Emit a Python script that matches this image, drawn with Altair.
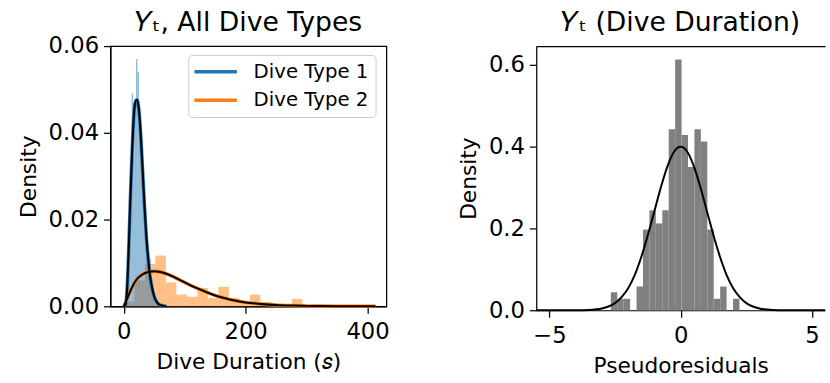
import altair as alt
import pandas as pd

FONT = "DejaVu Sans"
BLUE = "#1f77b4"
ORANGE = "#ff7f0e"

# ---------------- Left panel: Y_t, all dive types ----------------
type1_edges = [3.2, 5.6, 8.0, 10.4, 12.8, 15.2, 17.6, 20.0, 22.4, 24.8, 27.2, 29.6,
               32.0, 34.4, 36.8, 39.2, 41.6, 44.0, 46.4, 48.8, 51.2, 53.6, 56.0, 58.4, 60.8]
type1_density = [0.004, 0.010, 0.018, 0.032, 0.049, 0.046, 0.047, 0.057, 0.054, 0.044,
                 0.036, 0.029, 0.025, 0.019, 0.014, 0.0125, 0.011, 0.006, 0.004, 0.003,
                 0.0015, 0.001, 0.0005, 0.0005]

type2_edges = [0, 17.25, 34.5, 51.75, 69, 86.25, 103.5, 120.75, 138, 155.25, 172.5, 189.75,
               207, 224.25, 241.5, 258.75, 276, 293.25, 310.5, 327.75, 345, 362.25, 379.5,
               396.75, 414]
type2_density = [0.0011, 0.0060, 0.0098, 0.0117, 0.0055, 0.0027, 0.0022, 0.0042, 0.0019,
                 0.0045, 0.0019, 0.0010, 0.0027, 0.0010, 0.0005, 0.0005, 0.0017, 0.0003,
                 0.0003, 0.0, 0.0003, 0.0, 0.0, 0.0003]

type1_curve_x = [2.5, 5, 8, 11, 14, 17, 20, 22, 25, 28, 31, 34, 37, 40, 43, 46, 50, 55, 60, 65, 70]
type1_curve_y = [0, 0.003, 0.013, 0.026, 0.037, 0.045, 0.0475, 0.0476, 0.045, 0.039, 0.031,
                 0.023, 0.016, 0.011, 0.007, 0.0045, 0.0022, 0.0008, 0.0003, 0.0001, 0]

type2_curve_x = [0, 5, 10, 15, 20, 30, 40, 50, 60, 70, 80, 90, 100, 110, 120, 135, 150, 165,
                 180, 200, 225, 250, 275, 300, 350, 413]
type2_curve_y = [0, 0.0016, 0.0033, 0.0048, 0.006, 0.0073, 0.0079, 0.0081, 0.0079, 0.0075,
                 0.0069, 0.0062, 0.0055, 0.0048, 0.0042, 0.0033, 0.0025, 0.0019, 0.0014,
                 0.0009, 0.00055, 0.0003, 0.00017, 0.0001, 0.00003, 0]

series_names = ["Dive Type 1", "Dive Type 2"]

# ---------------- Right panel: pseudoresiduals ----------------
resid_edges = [-2.66, -2.415, -2.17, -1.925, -1.68, -1.435, -1.19, -0.945, -0.70, -0.455,
               -0.21, 0.035, 0.28, 0.525, 0.77, 1.015, 1.26, 1.505, 1.75, 1.995, 2.24]
resid_density = [0.044, 0.028, 0.028, 0.0, 0.058, 0.197, 0.244, 0.212, 0.244, 0.442,
                 0.612, 0.428, 0.350, 0.442, 0.412, 0.197, 0.028, 0.058, 0.0, 0.028]

normal_x = [-5.5, -4.5, -4, -3.5, -3, -2.75, -2.5, -2.25, -2, -1.75, -1.5, -1.25, -1, -0.75,
            -0.5, -0.25, 0, 0.25, 0.5, 0.75, 1, 1.25, 1.5, 1.75, 2, 2.25, 2.5, 2.75, 3, 3.5,
            4, 4.5, 5.5]
normal_y = [0, 0, 0.0001, 0.0009, 0.0044, 0.0091, 0.0175, 0.032, 0.054, 0.086, 0.130, 0.183,
            0.242, 0.301, 0.352, 0.387, 0.399, 0.387, 0.352, 0.301, 0.242, 0.183, 0.130,
            0.086, 0.054, 0.032, 0.0175, 0.0091, 0.0044, 0.0009, 0.0001, 0, 0]


def hist_df(edges, dens):
    return pd.DataFrame({"x0": edges[:-1], "x1": edges[1:], "density": dens})


curves = pd.concat([
    pd.DataFrame({"x": type1_curve_x, "density": type1_curve_y, "type": series_names[0]}),
    pd.DataFrame({"x": type2_curve_x, "density": type2_curve_y, "type": series_names[1]}),
])

xs_left = alt.Scale(domain=[-22, 431], nice=False, zero=False)
ys_left = alt.Scale(domain=[0, 0.06], nice=False, zero=False)
x_axis_left = alt.Axis(values=[0, 200, 400], title="Dive Duration (𝑠)")
y_axis_left = alt.Axis(values=[0, 0.02, 0.04, 0.06], format=".2f", title="Density")

hist2 = alt.Chart(hist_df(type2_edges, type2_density)).mark_rect(color=ORANGE, opacity=0.5).encode(
    x=alt.X("x0:Q", scale=xs_left, axis=x_axis_left), x2="x1:Q",
    y=alt.Y("density:Q", scale=ys_left, axis=y_axis_left), y2=alt.datum(0))
hist1 = alt.Chart(hist_df(type1_edges, type1_density)).mark_rect(color=BLUE, opacity=0.5).encode(
    x=alt.X("x0:Q", scale=xs_left, axis=x_axis_left), x2="x1:Q",
    y=alt.Y("density:Q", scale=ys_left, axis=y_axis_left), y2=alt.datum(0))

legend = alt.Legend(
    orient="none", legendX=79, legendY=9, title=None,
    symbolType="M-2.87,0H2.87", symbolSize=225, symbolStrokeWidth=3.5,
    symbolOffset=10.75, labelOffset=28.5,
    labelFont=FONT, labelFontSize=20, labelColor="black",
    fillColor="white", strokeColor="#cccccc", padding=7, cornerRadius=4, rowPadding=9)

colored = alt.Chart(curves).mark_line(strokeWidth=3.5, interpolate="monotone").encode(
    x=alt.X("x:Q", scale=xs_left, axis=x_axis_left),
    y=alt.Y("density:Q", scale=ys_left, axis=y_axis_left),
    color=alt.Color("type:N", scale=alt.Scale(domain=series_names, range=[BLUE, ORANGE]), legend=legend))
black = alt.Chart(curves).mark_line(color="black", strokeWidth=2, interpolate="monotone").encode(
    x=alt.X("x:Q", scale=xs_left, axis=x_axis_left),
    y=alt.Y("density:Q", scale=ys_left, axis=y_axis_left),
    detail="type:N")

left = alt.layer(hist2, hist1, colored, black).properties(
    width=280, height=264,
    title=alt.TitleParams(text="𝑌ₜ, All Dive Types", offset=-2))

xs_right = alt.Scale(domain=[-5.5, 5.5], nice=False, zero=False)
ys_right = alt.Scale(domain=[0, 0.645], nice=False, zero=False)
y_axis_right = alt.Axis(values=[0, 0.2, 0.4, 0.6], format=".1f", title="Density")

bars = alt.Chart(hist_df(resid_edges, resid_density)).mark_rect(color="#808080").encode(
    x=alt.X("x0:Q", scale=xs_right, axis=alt.Axis(values=[-5, 0, 5], title="Pseudoresiduals")),
    x2="x1:Q",
    y=alt.Y("density:Q", scale=ys_right, axis=y_axis_right), y2=alt.datum(0))
normal = alt.Chart(pd.DataFrame({"x": normal_x, "density": normal_y})).mark_line(
    color="black", strokeWidth=2, interpolate="monotone").encode(
    x=alt.X("x:Q", scale=xs_right, axis=alt.Axis(orient="top", labels=False, ticks=False, title=None)),
    y=alt.Y("density:Q", scale=ys_right, axis=y_axis_right))

right = alt.layer(bars, normal).resolve_axis(x="independent").properties(
    width=293, height=268,
    title=alt.TitleParams(text="𝑌ₜ (Dive Duration)", offset=9),
    view=alt.ViewBackground(stroke="transparent"))

chart = alt.hconcat(left, right, spacing=67).properties(
    padding={"left": 17, "top": 6, "right": 0, "bottom": 0}
).configure(font=FONT).configure_view(
    stroke="black", strokeWidth=1.25
).configure_axis(
    labelFont=FONT, titleFont=FONT, labelFontSize=23, titleFontSize=22,
    labelColor="black", titleColor="black", tickColor="black", domainColor="black",
    tickSize=7, tickWidth=1.25, domainWidth=1.25, grid=False, titleFontWeight="normal"
).configure_axisX(labelPadding=8, titlePadding=8).configure_axisY(
    labelPadding=5, titlePadding=8
).configure_title(
    font=FONT, fontSize=27, fontWeight="normal", color="black", anchor="middle",
    frame="group", baseline="alphabetic"
)

chart.save("out.html", embed_options={"renderer": "svg", "actions": False})
